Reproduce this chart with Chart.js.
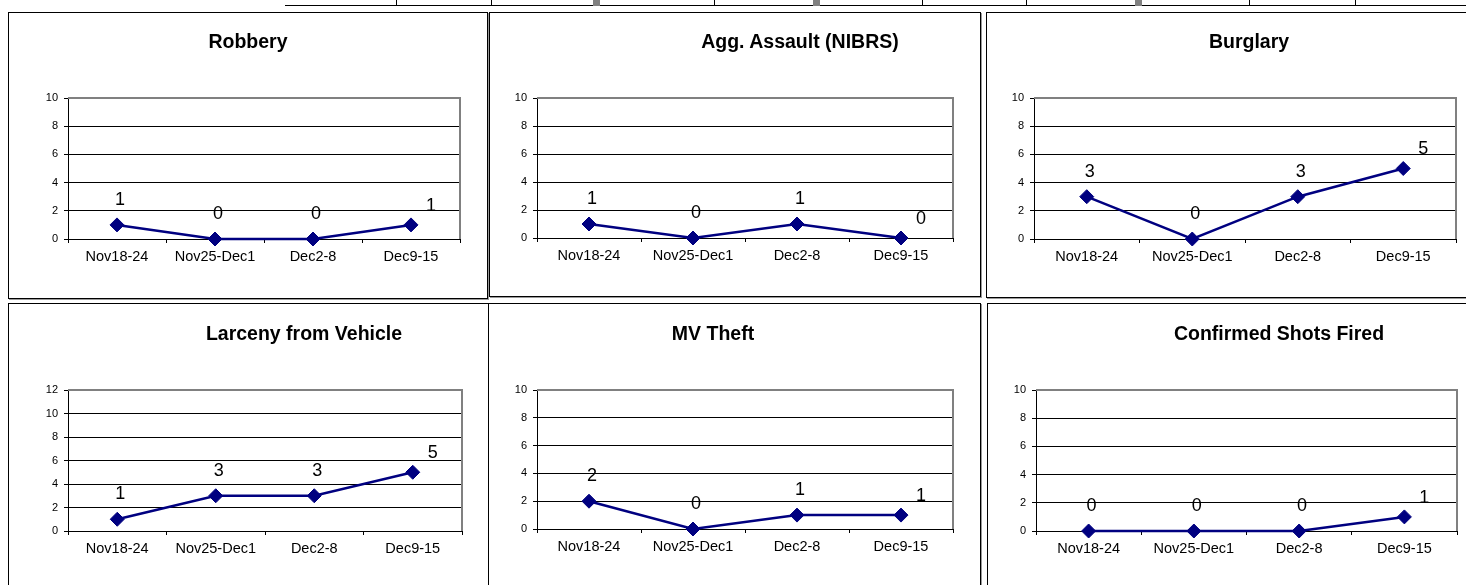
<!DOCTYPE html>
<html>
<head>
<meta charset="utf-8">
<script src="https://cdn.jsdelivr.net/npm/chart.js@4.4.1/dist/chart.umd.min.js"></script>
<style>
body{margin:0;background:#fff;width:1466px;height:585px;overflow:hidden;position:relative;font-family:"Liberation Sans",Arial,sans-serif}
.panel{position:absolute;border:1px solid #000;box-sizing:border-box;background:#fff;overflow:hidden;box-shadow:1px 1px 0 #9a9a9a}
.panel canvas{position:absolute;left:0;top:0}
.title{position:absolute;width:400px;text-align:center;font-weight:bold;font-size:19.5px;line-height:22px;color:#000;white-space:nowrap}
.strip{position:absolute;top:5px;left:285px;right:0;height:0;border-top:1px solid #000}
.sep{position:absolute;top:0;height:6px;border-left:1px solid #000}
.mark{position:absolute;top:0;width:7px;height:6px;background:#808080}
</style>
</head>
<body>
<script>
// data
const categories = ['Nov18-24', 'Nov25-Dec1', 'Dec2-8', 'Dec9-15']
const robbery = [1, 0, 0, 1]
const aggAssault = [1, 0, 1, 0]
const burglary = [3, 0, 3, 5]
const larcenyVehicle = [1, 3, 3, 5]
const mvTheft = [2, 0, 1, 1]
const shotsFired = [0, 0, 0, 1]
const titles = ['Robbery', 'Agg. Assault (NIBRS)', 'Burglary', 'Larceny from Vehicle', 'MV Theft', 'Confirmed Shots Fired']
const seriesList = [robbery, aggAssault, burglary, larcenyVehicle, mvTheft, shotsFired]
const yMaxes = [10, 10, 10, 12, 10, 10]
const yStep = 2

// layout: panel box [l,t,r,b], plot area [l,t,r,b], title centre x / top
const panels = [
    {box: [8, 12, 487, 298],   plot: [68, 98, 460, 239],    tx: 248,  ty: 30},
    {box: [489, 12, 980, 296], plot: [537, 98, 953, 238],   tx: 800,  ty: 30},
    {box: [986, 12, 1480, 297], plot: [1034, 98, 1456, 239], tx: 1249, ty: 30},
    {box: [8, 303, 488, 600],  plot: [68, 390, 462, 531],   tx: 304,  ty: 322},
    {box: [488, 303, 980, 600], plot: [537, 390, 953, 529],  tx: 713,  ty: 322},
    {box: [987, 303, 1480, 600], plot: [1036, 390, 1457, 531], tx: 1279, ty: 322},
]

// strip of the table above the charts
const strip = document.createElement('div')
strip.className = 'strip'
document.body.appendChild(strip)
;[396, 491, 714, 922, 1026, 1249, 1355].forEach(x => {
    const d = document.createElement('div')
    d.className = 'sep'
    d.style.left = x + 'px'
    document.body.appendChild(d)
})
;[593, 813, 1135].forEach(x => {
    const d = document.createElement('div')
    d.className = 'mark'
    d.style.left = x + 'px'
    document.body.appendChild(d)
})

const FONT = '"Liberation Sans", Arial, sans-serif'
const NAVY = '#000080'
const Y_W = 40
const X_H = 40

const plotFrame = {
    id: 'plotFrame',
    beforeDatasetsDraw(chart) {
        const {ctx, chartArea: a} = chart
        ctx.save()
        ctx.strokeStyle = '#808080'
        ctx.lineWidth = 2
        ctx.beginPath()
        ctx.moveTo(a.left, a.top)
        ctx.lineTo(a.right, a.top)
        ctx.lineTo(a.right, a.bottom)
        ctx.stroke()
        ctx.restore()
    }
}

const pointLabels = {
    id: 'pointLabels',
    afterDatasetsDraw(chart) {
        const {ctx} = chart
        const meta = chart.getDatasetMeta(0)
        const vals = chart.data.datasets[0].data
        ctx.save()
        ctx.font = '18px ' + FONT
        ctx.fillStyle = '#000'
        ctx.textAlign = 'center'
        ctx.textBaseline = 'middle'
        meta.data.forEach((pt, i) => {
            const last = i === vals.length - 1
            ctx.fillText(String(vals[i]), pt.x + (last ? 20 : 3), pt.y + (last ? -19 : -25))
        })
        ctx.restore()
    }
}

panels.forEach((p, k) => {
    const [l, t, r, b] = p.box
    const [pl, pt, pr, pb] = p.plot
    const div = document.createElement('div')
    div.className = 'panel'
    div.style.left = l + 'px'
    div.style.top = t + 'px'
    div.style.width = (r - l + 1) + 'px'
    div.style.height = (b - t + 1) + 'px'
    document.body.appendChild(div)

    const cw = r - l - 1
    const ch = b - t - 1
    const canvas = document.createElement('canvas')
    canvas.width = cw
    canvas.height = ch
    canvas.style.width = cw + 'px'
    canvas.style.height = ch + 'px'
    div.appendChild(canvas)

    const title = document.createElement('div')
    title.className = 'title'
    title.textContent = titles[k]
    title.style.left = (p.tx - 200) + 'px'
    title.style.top = p.ty + 'px'
    document.body.appendChild(title)

    const aL = pl - (l + 1), aT = pt - (t + 1), aR = pr - (l + 1), aB = pb - (t + 1)
    const max = yMaxes[k]

    new Chart(canvas, {
        type: 'line',
        data: {
            labels: categories,
            datasets: [{
                data: seriesList[k],
                borderColor: NAVY,
                borderWidth: 2.5,
                backgroundColor: NAVY,
                pointStyle: 'rectRot',
                pointRadius: 7,
                pointBackgroundColor: NAVY,
                pointBorderColor: NAVY,
                pointBorderWidth: 1,
                tension: 0,
                clip: false,
            }]
        },
        options: {
            responsive: false,
            animation: false,
            events: [],
            layout: {
                padding: {left: aL - Y_W, top: aT, right: cw - aR, bottom: ch - aB - X_H}
            },
            scales: {
                x: {
                    offset: true,
                    afterFit(scale) { scale.height = X_H },
                    grid: {
                        drawOnChartArea: false,
                        drawTicks: true,
                        tickLength: 4,
                        color: '#000',
                        offset: true,
                    },
                    border: {color: '#000', width: 1},
                    ticks: {
                        color: '#000',
                        font: {family: FONT, size: 14.5},
                        padding: 5,
                        maxRotation: 0,
                        autoSkip: false,
                    },
                },
                y: {
                    min: 0,
                    max: max,
                    afterFit(scale) { scale.width = Y_W },
                    grid: {
                        color: ctx => ctx.tick && ctx.tick.value === max ? 'rgba(0,0,0,0)' : '#000',
                        tickColor: '#000',
                        tickLength: 4,
                        lineWidth: 1,
                    },
                    border: {color: '#000', width: 1},
                    ticks: {
                        stepSize: yStep,
                        color: '#000',
                        font: {family: FONT, size: 11},
                        padding: 6,
                    },
                },
            },
            plugins: {
                legend: {display: false},
                tooltip: {enabled: false},
                title: {display: false},
            },
        },
        plugins: [plotFrame, pointLabels],
    })
})
</script>
</body>
</html>
